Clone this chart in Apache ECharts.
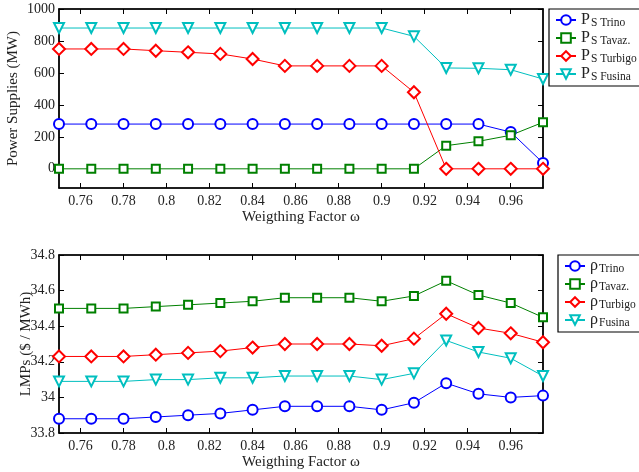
<!DOCTYPE html>
<html>
<head>
<meta charset="utf-8">
<script src="https://cdn.jsdelivr.net/npm/echarts@6/dist/echarts.min.js"></script>
<style>
    html, body { margin: 0; padding: 0; background: #fff; }
    #chart { width: 639px; height: 472px; }
</style>
</head>
<body>
<div id="chart"></div>
<script>
// weighting factor values (x)
const weights = [0.75, 0.765, 0.78, 0.795, 0.81, 0.825, 0.84, 0.855, 0.87, 0.885, 0.9, 0.915, 0.93, 0.945, 0.96, 0.975];
const xTicks = [0.76, 0.78, 0.8, 0.82, 0.84, 0.86, 0.88, 0.9, 0.92, 0.94, 0.96];

// power supplies (MW)
const psTrino = [280, 280, 280, 280, 280, 280, 280, 280, 280, 280, 280, 280, 280, 280, 230, 37];
const psTavaz = [0, 0, 0, 0, 0, 0, 0, 0, 0, 0, 0, 0, 145, 172, 210, 291];
const psTurbigo = [750, 750, 750, 739, 729, 719, 687, 644, 644, 644, 644, 479, 0, 0, 0, 0];
const psFusina = [881, 881, 881, 881, 881, 881, 881, 881, 881, 881, 881, 829, 631, 629, 620, 562];
const psTicks = [0, 200, 400, 600, 800, 1000];

// LMPs ($/MWh)
const lmpTrino = [33.88, 33.88, 33.88, 33.89, 33.90, 33.91, 33.93, 33.95, 33.95, 33.95, 33.93, 33.97, 34.08, 34.02, 34.00, 34.01];
const lmpTavaz = [34.50, 34.50, 34.50, 34.51, 34.52, 34.53, 34.54, 34.56, 34.56, 34.56, 34.54, 34.57, 34.655, 34.575, 34.53, 34.45];
const lmpTurbigo = [34.23, 34.23, 34.23, 34.24, 34.25, 34.26, 34.28, 34.30, 34.30, 34.30, 34.29, 34.33, 34.47, 34.39, 34.36, 34.31];
const lmpFusina = [34.09, 34.09, 34.09, 34.10, 34.10, 34.11, 34.11, 34.12, 34.12, 34.12, 34.10, 34.135, 34.32, 34.255, 34.22, 34.12];
const lmpTicks = [33.8, 34, 34.2, 34.4, 34.6, 34.8];

const FONT = "'Liberation Serif', 'DejaVu Serif', serif";
const colors = { Trino: '#0000ff', Tavaz: '#008000', Turbigo: '#ff0000', Fusina: '#00bfbf' };
const markers = {
    Trino: { symbol: 'emptyCircle', size: 10, rotate: 0 },
    Tavaz: { symbol: 'emptyRect', size: 8, rotate: 0 },
    Turbigo: { symbol: 'emptyDiamond', size: 12, rotate: 0 },
    Fusina: { symbol: 'emptyTriangle', size: 10, rotate: 180 },
};
const subNames = { Trino: 'Trino', Tavaz: 'Tavaz.', Turbigo: 'Turbigo', Fusina: 'Fusina' };

function pairs(values) {
    return weights.map((w, i) => [w, values[i]]);
}

function makeSeries(key, values, idx, tag) {
    const m = markers[key];
    return {
        name: tag + key,
        type: 'line',
        xAxisIndex: idx * 2,
        yAxisIndex: idx * 2,
        data: pairs(values),
        symbol: m.symbol,
        symbolSize: m.size,
        symbolRotate: m.rotate,
        lineStyle: { color: colors[key], width: 1 },
        itemStyle: { color: colors[key], borderWidth: 1 },
        animation: false,
    };
}

function xAxes(gridIndex) {
    const base = {
        type: 'value',
        gridIndex: gridIndex,
        min: 0.75,
        max: 0.975,
        splitLine: { show: false },
        axisLine: { onZero: false, lineStyle: { color: '#000', width: 1.5 } },
    };
    return [
        Object.assign({}, base, {
            position: 'bottom',
            name: 'Weigthing Factor ω',
            nameLocation: 'middle',
            nameGap: 22,
            nameMoveOverlap: false,
            nameTextStyle: { fontFamily: FONT, fontSize: 15, color: '#222', verticalAlign: 'top' },
            axisTick: { inside: true, length: 5, customValues: xTicks, lineStyle: { color: '#000' } },
            axisLabel: {
                customValues: xTicks, margin: 6, color: '#222', fontFamily: FONT, fontSize: 14,
                formatter: v => String(parseFloat(v.toFixed(2)))
            },
        }),
        Object.assign({}, base, {
            position: 'top',
            axisTick: { inside: true, length: 5, customValues: xTicks, lineStyle: { color: '#000' } },
            axisLabel: { show: false },
        }),
    ];
}

function yAxes(gridIndex, min, max, ticks, name, gap) {
    const base = {
        type: 'value',
        gridIndex: gridIndex,
        min: min,
        max: max,
        splitLine: { show: false },
        axisLine: { onZero: false, lineStyle: { color: '#000', width: 1.5 } },
    };
    return [
        Object.assign({}, base, {
            position: 'left',
            name: name,
            nameLocation: 'middle',
            nameGap: gap,
            nameMoveOverlap: false,
            nameTextStyle: { fontFamily: FONT, fontSize: 15, color: '#222' },
            axisTick: { inside: true, length: 5, customValues: ticks, lineStyle: { color: '#000' } },
            axisLabel: {
                customValues: ticks, margin: 4, color: '#222', fontFamily: FONT, fontSize: 14,
                formatter: v => String(parseFloat(v.toFixed(1)))
            },
        }),
        Object.assign({}, base, {
            position: 'right',
            axisTick: { inside: true, length: 5, customValues: ticks, lineStyle: { color: '#000' } },
            axisLabel: { show: false },
        }),
    ];
}

function legend(left, top, tag, mainChar, withS, gap) {
    return {
        orient: 'vertical',
        left: left,
        top: top,
        data: ['Trino', 'Tavaz', 'Turbigo', 'Fusina'].map(k => tag + k),
        itemWidth: 20,
        itemHeight: 12,
        itemGap: gap,
        padding: [2, 30, 3, 6],
        borderColor: '#000',
        borderWidth: 1.2,
        backgroundColor: '#fff',
        formatter: name => {
            const key = name.replace(tag, '');
            return '{p|' + mainChar + '}{s|' + (withS ? 'S ' : '') + subNames[key] + '}';
        },
        textStyle: {
            fontFamily: FONT,
            color: '#222',
            rich: {
                p: { fontFamily: FONT, fontSize: 16, lineHeight: 16, color: '#222' },
                s: { fontFamily: FONT, fontSize: 11.5, lineHeight: 12, color: '#222', padding: [6, 0, 0, 1] },
            },
        },
    };
}

const chart = echarts.init(document.getElementById('chart'), null, { renderer: 'canvas' });

const option = {
    backgroundColor: '#fff',
    animation: false,
    grid: [
        { left: 59, top: 9, width: 484, height: 179, show: true, borderColor: '#000', borderWidth: 1.2,
          containLabel: false, outerBoundsMode: 'none' },
        { left: 59, top: 255, width: 484, height: 178, show: true, borderColor: '#000', borderWidth: 1.2,
          containLabel: false, outerBoundsMode: 'none' },
    ],
    xAxis: xAxes(0).concat(xAxes(1)),
    yAxis: yAxes(0, -120, 1000, psTicks, 'Power Supplies (MW)', 38)
        .concat(yAxes(1, 33.8, 34.8, lmpTicks, 'LMPs ($ / MWh)', 25)),
    legend: [
        legend(549, 9, 'ps', 'P', true, 0),
        legend(558, 255, 'lmp', 'ρ', false, 0),
    ],
    series: [
        makeSeries('Trino', psTrino, 0, 'ps'),
        makeSeries('Tavaz', psTavaz, 0, 'ps'),
        makeSeries('Turbigo', psTurbigo, 0, 'ps'),
        makeSeries('Fusina', psFusina, 0, 'ps'),
        makeSeries('Trino', lmpTrino, 1, 'lmp'),
        makeSeries('Tavaz', lmpTavaz, 1, 'lmp'),
        makeSeries('Turbigo', lmpTurbigo, 1, 'lmp'),
        makeSeries('Fusina', lmpFusina, 1, 'lmp'),
    ],
};

chart.setOption(option);
</script>
</body>
</html>
